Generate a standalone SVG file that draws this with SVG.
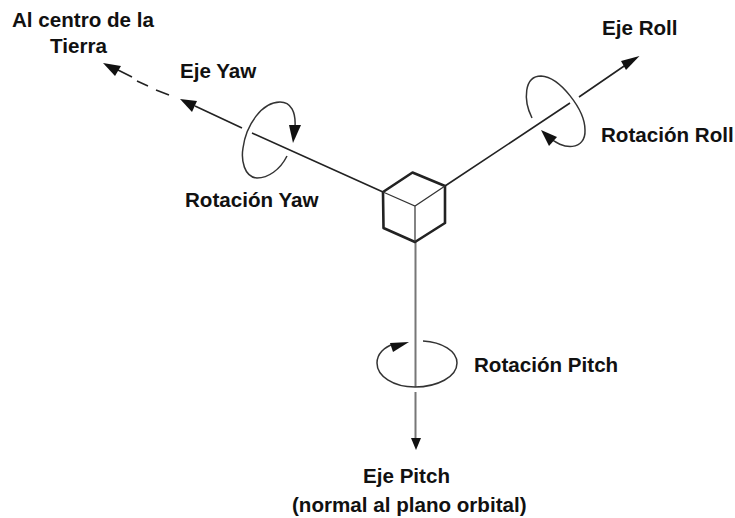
<svg xmlns="http://www.w3.org/2000/svg" width="735" height="518" viewBox="0 0 735 518">
<style>
text{font-family:"Liberation Sans",Arial,sans-serif;font-weight:bold;font-size:20.6px;fill:#111}
.ax{fill:none;stroke:#222;stroke-width:1.6}
.rot{fill:none;stroke:#333;stroke-width:1.5}
.head{fill:#111;stroke:none}
.cube{fill:none;stroke:#222;stroke-width:2.6;stroke-linejoin:round}
.in{fill:none;stroke:#333;stroke-width:1.2}
</style>
<rect width="735" height="518" fill="#fff"/>
<g id="connectors">
<path class="ax" d="M445 186L570 103M579 97L630 62"/>
<polygon class="head" points="639.5,56 626,70 621,61"/>
<path class="ax" d="M383 192L252 133M242 128L195 106"/>
<polygon class="head" points="180,99 197,101 192,112"/>
<path class="ax" d="M169 95L156 90M148 86L137 81M132 77L118 70"/>
<polygon class="head" points="103,63 121,66 115,76"/>
<path class="ax" style="stroke:#777;stroke-width:2" d="M415.500 242V387M415.500 392V438"/>
<polygon class="head" points="416,450 411,438 421,438"/>
</g>
<g id="rotacion-roll">
<path class="rot" d="M532 118C523 100 524 76 541 76C560 77 585 110 585 130C586 150 563 152 547 135"/>
<polygon class="head" points="541,130 557,137 549,146"/>
</g>
<g id="rotacion-yaw">
<path class="rot" d="M287 156C280 170 268 178 257 178C244 177 241 160 243 148C246 125 262 102 280 102C291 102 296 112 295 127"/>
<polygon class="head" points="293,143 289,125 301,125"/>
</g>
<g id="rotacion-pitch">
<path class="rot" d="M423 341C442 342 457 351 457 363C457 377 437 387 415 387C393 387 377 376 377 363C377 354 384 347 394 344"/>
<polygon class="head" points="409,342 390,343 393,352"/>
</g>
<g id="cubo">
<polygon class="cube" points="412.500,172.500 445,186 445,223 415,242 383.500,228 383,192"/>
<path class="in" d="M383 192L415 206L445 186M415 206V242"/>
</g>
<g id="labels">
<text x="12" y="27">Al centro de la</text>
<text x="50" y="53">Tierra</text>
<text x="180" y="78">Eje Yaw</text>
<text x="185" y="207">Rotación Yaw</text>
<text x="602" y="35">Eje Roll</text>
<text x="601" y="142">Rotación Roll</text>
<text x="474" y="372">Rotación Pitch</text>
<text x="363" y="483">Eje Pitch</text>
<text x="292" y="512">(normal al plano orbital)</text>
</g>
</svg>
